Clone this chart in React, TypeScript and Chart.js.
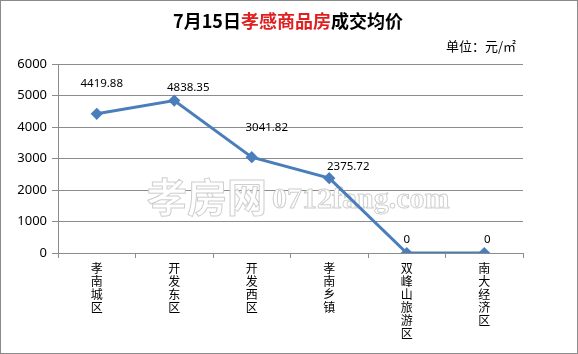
import React, { useEffect, useRef } from "react";
import { Chart, registerables } from "chart.js";

Chart.register(...registerables);

const categories: string[] = ["孝南城区", "开发东区", "开发西区", "孝南乡镇", "双峰山旅游区", "南大经济区"];
const prices: number[] = [4419.88, 4838.35, 3041.82, 2375.72, 0, 0];
const priceLabels: string[] = ["4419.88", "4838.35", "3041.82", "2375.72", "0", "0"];
const yTicks: number[] = [0, 1000, 2000, 3000, 4000, 5000, 6000];

const CJK = '"Noto Sans CJK SC", "Noto Sans", sans-serif';
const LINE_BLUE = "#4A7EBB";
const GRID = "#8c8c8c";

// label offsets relative to point (style only)
const labelOffsets: [number, number][] = [
  [5, -30],
  [14, -13],
  [15, -29],
  [19, -11],
  [0, -13],
  [3, -13],
];

const decorPlugin = {
  id: "decor",
  beforeDraw(chart: any) {
    const ctx = chart.ctx;
    ctx.save();
    ctx.fillStyle = "#ffffff";
    ctx.fillRect(0, 0, chart.width, chart.height);
    ctx.restore();
  },
  beforeDatasetsDraw(chart: any) {
    const ctx = chart.ctx;
    ctx.save();
    // watermark
    ctx.lineWidth = 1;
    ctx.strokeStyle = "#cfcfcf";
    ctx.fillStyle = "#ffffff";
    ctx.textBaseline = "alphabetic";
    ctx.textAlign = "left";
    ctx.font = `bold 40px ${CJK}`;
    const wm1 = "孝房网";
    ctx.fillText(wm1, 147, 212);
    ctx.strokeText(wm1, 147, 212);
    ctx.font = 'bold 30px "Liberation Serif", serif';
    const wm2 = "0712fang.com";
    ctx.fillText(wm2, 272, 208);
    ctx.strokeText(wm2, 272, 208);
    ctx.restore();
  },
  afterDraw(chart: any) {
    const ctx = chart.ctx;
    ctx.save();
    // title
    ctx.textBaseline = "middle";
    ctx.textAlign = "left";
    ctx.font = `bold 18px ${CJK}`;
    const parts: [string, string][] = [
      ["7月15日", "#000000"],
      ["孝感商品房", "#e02020"],
      ["成交均价", "#000000"],
    ];
    const total = parts.reduce((s, p) => s + ctx.measureText(p[0]).width, 0);
    let x = 288 - total / 2;
    for (const [t, c] of parts) {
      ctx.fillStyle = c;
      ctx.fillText(t, x, 21);
      x += ctx.measureText(t).width;
    }
    // unit
    ctx.font = `13px ${CJK}`;
    ctx.fillStyle = "#000000";
    ctx.textAlign = "left";
    ctx.fillText("单位：元/㎡", 446, 46);

    // data labels
    const meta = chart.getDatasetMeta(0);
    ctx.font = '11.5px "Noto Sans", sans-serif';
    ctx.textAlign = "center";
    ctx.textBaseline = "middle";
    ctx.fillStyle = "#000000";
    meta.data.forEach((pt: any, i: number) => {
      const [dx, dy] = labelOffsets[i];
      ctx.fillText(priceLabels[i], pt.x + dx, pt.y + dy);
    });

    // outer border
    ctx.strokeStyle = "#8a8a8a";
    ctx.lineWidth = 1;
    ctx.strokeRect(0.5, 0.5, chart.width - 1, chart.height - 1);
    ctx.restore();
  },
};

export default function App() {
  const ref = useRef<HTMLCanvasElement | null>(null);
  useEffect(() => {
    if (!ref.current) return;
    const chart = new Chart(ref.current, {
      type: "line",
      data: {
        labels: categories.map((c) => c.split("")),
        datasets: [
          {
            data: prices,
            borderColor: LINE_BLUE,
            backgroundColor: LINE_BLUE,
            borderWidth: 3,
            pointStyle: "rectRot",
            pointRadius: 4,
            pointBackgroundColor: LINE_BLUE,
            pointBorderColor: LINE_BLUE,
            tension: 0,
            fill: false,
          },
        ],
      },
      options: {
        responsive: false,
        animation: false,
        devicePixelRatio: 1,
        layout: { padding: { top: 64, right: 55, left: 0, bottom: 0 } },
        plugins: {
          legend: { display: false },
          tooltip: { enabled: false },
          title: { display: false },
        },
        scales: {
          x: {
            type: "category",
            offset: true,
            grid: {
              offset: true,
              drawOnChartArea: false,
              drawTicks: true,
              tickLength: 5,
              color: GRID,
            },
            border: { display: true, color: GRID, width: 1 },
            ticks: {
              color: "#000000",
              font: { family: CJK, size: 12, lineHeight: 1.08 },
              maxRotation: 0,
              minRotation: 0,
              autoSkip: false,
              padding: 4,
            },
            afterFit(scale: any) {
              scale.height = 354 - 253;
            },
          },
          y: {
            min: 0,
            max: 6000,
            afterBuildTicks(scale: any) {
              scale.ticks = yTicks.map((v) => ({ value: v }));
            },
            grid: {
              color: GRID,
              drawTicks: true,
              tickLength: 6,
            },
            border: { display: true, color: GRID, width: 1 },
            ticks: {
              color: "#000000",
              font: { family: '"Noto Sans", sans-serif', size: 13 },
              padding: 5,
              callback: (v: any) => String(v),
            },
            afterFit(scale: any) {
              scale.width = 58;
            },
          },
        },
      },
      plugins: [decorPlugin],
    } as any);
    return () => chart.destroy();
  }, []);
  return (
    <div style={{ position: "fixed", left: 0, top: 0, width: 578, height: 354 }}>
      <canvas ref={ref} width={578} height={354} style={{ width: 578, height: 354, display: "block" }} />
    </div>
  );
}
